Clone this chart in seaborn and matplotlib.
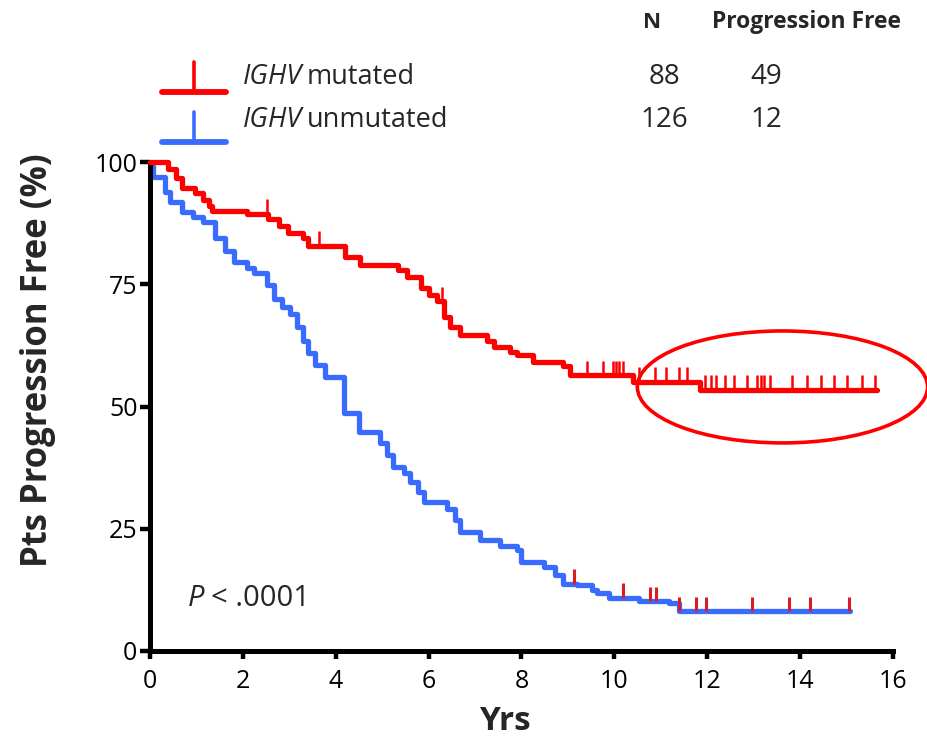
import numpy as np
import pandas as pd
import matplotlib
matplotlib.use("Agg")
import matplotlib.pyplot as plt
import seaborn as sns
from matplotlib.path import Path
from matplotlib.patches import Ellipse
from matplotlib.lines import Line2D
from matplotlib.markers import MarkerStyle

# ---------------- data ----------------
groups = ["mutated", "unmutated"]
n_patients = [88, 126]
n_prog_free = [49, 12]

mut_time = [0, 0.39, 0.57, 0.68, 0.97, 1.15, 1.26, 1.33, 2.08, 2.55,
            2.77, 2.98, 3.30, 3.41, 4.20, 4.53, 5.35, 5.53, 5.84, 6.00,
            6.17, 6.33, 6.45, 6.68, 7.26, 7.40, 7.76, 7.90, 8.25, 8.90,
            9.05, 10.40, 11.85, 15.66]
mut_surv = [100, 98.6, 96.7, 94.6, 93.6, 92.2, 90.9, 90.0, 89.4, 88.3,
            86.9, 85.5, 84.4, 82.9, 80.5, 78.9, 77.9, 76.4, 74.3, 72.7,
            71.5, 68.4, 66.2, 64.6, 63.3, 62.1, 61.1, 60.5, 59.2, 58.2,
            56.4, 55.1, 53.4, 53.4]
mut_censor = [2.51, 3.64, 6.29, 9.41, 9.75, 9.98, 10.04, 10.10, 10.18, 10.52,
              10.88, 11.12, 11.39, 11.57, 11.96, 12.07, 12.18, 12.39, 12.57,
              12.86, 13.07, 13.15, 13.22, 13.36, 13.83, 14.15, 14.44, 14.73,
              15.01, 15.34, 15.62]

unm_time = [0, 0.07, 0.32, 0.43, 0.68, 0.93, 1.15, 1.40, 1.62, 1.80,
            2.08, 2.23, 2.52, 2.66, 2.84, 3.02, 3.16, 3.30, 3.41, 3.56,
            3.77, 4.17, 4.49, 4.96, 5.10, 5.24, 5.46, 5.60, 5.78, 5.89,
            6.39, 6.57, 6.68, 7.11, 7.54, 7.90, 8.00, 8.48, 8.73, 8.90,
            9.20, 9.52, 9.63, 9.88, 10.53, 11.17, 11.39, 15.08]
unm_surv = [99.2, 96.9, 93.9, 91.9, 89.8, 88.8, 87.8, 84.5, 81.7, 79.6,
            78.3, 77.2, 74.8, 72.0, 70.4, 69.0, 66.3, 63.3, 60.9, 58.5,
            56.1, 48.6, 44.8, 42.5, 40.1, 37.7, 36.3, 34.6, 32.6, 30.5,
            29.0, 26.8, 24.4, 22.8, 21.5, 20.7, 18.3, 17.2, 15.5, 13.8,
            13.4, 12.5, 11.8, 10.9, 10.2, 9.75, 8.2, 8.2]
unm_censor = [9.12, 10.19, 10.76, 10.90, 11.40, 11.75, 11.97, 12.97, 13.75,
              14.22, 15.06]

x_ticks = [0, 2, 4, 6, 8, 10, 12, 14, 16]
y_ticks = [0, 25, 50, 75, 100]
p_text = "< .0001"

RED = "#FF0000"
BLUE = "#3A6BFF"
TICKRED = "#D91E23"

# ---------------- style ----------------
sns.set_style("ticks")
FONT = ["Open Sans", "DejaVu Sans"]
plt.rcParams["font.family"] = FONT

W, H = 928, 744
fig = plt.figure(figsize=(W / 100, H / 100), dpi=100)
ax = fig.add_axes([150 / W, 93 / H, 743 / W, 489 / H])


def fx(px):
    return px / W


def fy(py):
    return 1 - py / H


def censor_y(times, surv, cens):
    idx = np.searchsorted(np.asarray(times), np.asarray(cens), side="right") - 1
    return np.asarray(surv)[idx]


curves = pd.concat([
    pd.DataFrame({"t": mut_time, "s": mut_surv, "g": groups[0]}),
    pd.DataFrame({"t": unm_time, "s": unm_surv, "g": groups[1]}),
])

for g, col in zip(groups, [RED, BLUE]):
    sub = curves[curves["g"] == g]
    sns.lineplot(data=sub, x="t", y="s", ax=ax, color=col, lw=3.8,
                 drawstyle="steps-post", estimator=None, sort=False,
                 clip_on=False, zorder=3 if g == groups[0] else 2)

tick_marker = MarkerStyle(Path([(0, 0), (0, 1)], [Path.MOVETO, Path.LINETO]),
                          fillstyle="none")

mc = pd.DataFrame({"t": mut_censor, "s": censor_y(mut_time, mut_surv, mut_censor)})
uc = pd.DataFrame({"t": unm_censor, "s": censor_y(unm_time, unm_surv, unm_censor)})
sns.scatterplot(data=mc, x="t", y="s", ax=ax, marker=tick_marker, s=430,
                color=RED, edgecolor=RED, linewidth=1.8, clip_on=False, zorder=4)
sns.scatterplot(data=uc, x="t", y="s", ax=ax, marker=tick_marker, s=430,
                color=TICKRED, edgecolor=TICKRED, linewidth=2.2, clip_on=False, zorder=4)

# highlight ellipse
ell = Ellipse((13.62, 54.0), 6.25, 22.9, fill=False, edgecolor=RED, lw=2.6,
              clip_on=False, zorder=5)
ax.add_patch(ell)

# ---------------- axes ----------------
ax.set_xlim(0, 16)
ax.set_ylim(0, 100)
ax.set_xticks(x_ticks)
ax.set_yticks(y_ticks)
ax.set_xticklabels([str(v) for v in x_ticks])
ax.set_yticklabels([str(v) for v in y_ticks])
for sp in ["top", "right"]:
    ax.spines[sp].set_visible(False)
for sp in ["left", "bottom"]:
    ax.spines[sp].set_linewidth(3.6)
    ax.spines[sp].set_color("black")
ax.tick_params(axis="x", length=6, width=3.2, labelsize=18, pad=7, colors="black")
ax.tick_params(axis="y", length=7, width=3.2, labelsize=18, pad=2, colors="black")
ax.set_xlabel("")
ax.set_ylabel("")

fig.text(fx(505), fy(722), "Yrs", ha="center", va="center",
         fontsize=24, fontweight="bold")
fig.text(fx(38), fy(360), "Pts Progression Free (%)", ha="center", va="center",
         rotation=90, fontsize=25, fontweight="bold")

# P value
tp = fig.text(fx(188), fy(598), "P", ha="left", va="center", fontsize=21,
              style="italic")
ax.annotate(p_text, xy=(1, 0), xycoords=tp, xytext=(5, 0),
            textcoords="offset points", ha="left", va="bottom", fontsize=21)

# ---------------- legend / table ----------------
fig.text(fx(652), fy(22), "N", ha="center", va="center", fontsize=16,
         fontweight="bold")
fig.text(fx(807), fy(22), "Progression Free", ha="center", va="center",
         fontsize=16.5, fontweight="bold")

rows_y = [77, 120]
line_y = [92, 142]
cols = [RED, BLUE]
for i in range(2):
    fig.add_artist(Line2D([fx(162), fx(226)], [fy(line_y[i])] * 2, color=cols[i],
                          lw=4.2, transform=fig.transFigure))
    fig.add_artist(Line2D([fx(194)] * 2, [fy(line_y[i]), fy(line_y[i] - 30)],
                          color=cols[i], lw=2.6, transform=fig.transFigure))
    t1 = fig.text(fx(243), fy(rows_y[i]), "IGHV", ha="left", va="center",
                  fontsize=19.5, style="italic")
    ax.annotate(groups[i], xy=(1, 0), xycoords=t1, xytext=(3, 0),
                textcoords="offset points", ha="left", va="bottom", fontsize=19.5)
    fig.text(fx(664), fy(rows_y[i]), str(n_patients[i]), ha="center",
             va="center", fontsize=20)
    fig.text(fx(766), fy(rows_y[i]), str(n_prog_free[i]), ha="center",
             va="center", fontsize=20)

fig.savefig("out.png", dpi=100)
